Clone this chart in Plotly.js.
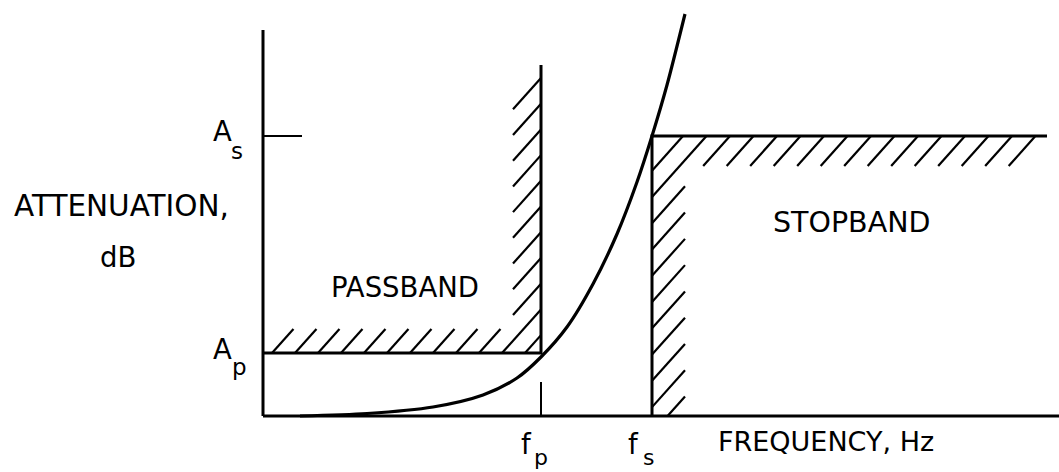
<!DOCTYPE html>
<html><head><meta charset="utf-8">
<script src="https://cdn.plot.ly/plotly-3.0.1.min.js"></script>
<style>html,body{margin:0;padding:0;background:#fff;}#chart{width:1059px;height:472px;}</style>
</head><body><div id="chart"></div>
<script>
// Key specification values (arbitrary units)
const fp = 2.78;          // passband edge frequency
const fs = 3.89;          // stopband edge frequency
const Ap = 0.63;          // max passband attenuation
const As = 2.80;          // min stopband attenuation
const passTop = 3.51;     // top of passband limit line
const stopRight = 7.84;   // right end of stopband limit line
const xAxisEnd = 7.96;    // end of frequency axis
const yAxisTop = 3.86;    // top of attenuation axis

// Filter attenuation response curve
const curveX = [0.37, 1.04, 1.70, 2.20, 2.54, 2.78, 3.04, 3.30, 3.54, 3.74, 3.89, 4.04, 4.22];
const curveY = [0.00, 0.025, 0.09, 0.21, 0.38, 0.59, 0.89, 1.32, 1.82, 2.34, 2.80, 3.31, 4.02];

// Text labels
const yTitle = ["ATTENUATION,", "dB"];
const xTitle = "FREQUENCY, Hz";
const regionLabels = ["PASSBAND", "STOPBAND"];
const tickMain = ["A", "A", "f", "f"];   // A_s, A_p, f_p, f_s
const tickSub  = ["s", "p", "p", "s"];

// ---- hatching (decorative) ----
function hatch(m, cs, rects, minDx) {
  const xs = [], ys = [];
  for (const c of cs) {
    const iv = [];
    for (const r of rects) {
      const lo = Math.max(r[0], (r[2] - c) / m);
      const hi = Math.min(r[1], (r[3] - c) / m);
      if (hi > lo) iv.push([lo, hi]);
    }
    iv.sort((a, b) => a[0] - b[0]);
    const merged = [];
    for (const s of iv) {
      if (merged.length && s[0] <= merged[merged.length - 1][1] + 1e-9) {
        merged[merged.length - 1][1] = Math.max(merged[merged.length - 1][1], s[1]);
      } else merged.push([s[0], s[1]]);
    }
    for (const s of merged) {
      if (s[1] - s[0] < minDx) continue;
      xs.push(s[0], s[1], null);
      ys.push(m * s[0] + c, m * s[1] + c, null);
    }
  }
  return {xs, ys};
}
const slope = 1.118;
const passCs = [], stopCs = [];
for (let k = 0; k < 12; k++) passCs.push((Ap - slope * 0.09) - k * slope * 0.23);
for (let k = -1; k < 17; k++) stopCs.push((As - slope * 4.20) - k * slope * 0.235);
const hp = hatch(slope, passCs, [[0, fp, Ap, Ap + 0.24], [fp - 0.28, fp, Ap, 3.40]], 0.1);
const hs = hatch(slope, stopCs, [[fs, 7.72, As - 0.30, As], [fs, fs + 0.33, 0, As]], 0.1);

const black = '#000';
const ln = (x, y, w) => ({x, y, mode: 'lines', line: {color: black, width: w}, hoverinfo: 'skip'});
const traces = [
  ln(hp.xs, hp.ys, 2.2),
  ln(hs.xs, hs.ys, 2.2),
  ln([0, xAxisEnd], [0, 0], 3),                 // frequency axis
  ln([0, 0], [0, yAxisTop], 3),                 // attenuation axis
  ln([0, 0.39], [As, As], 2),                   // A_s tick
  ln([fp, fp], [0, 0.34], 2),                   // f_p tick
  ln([0, fp, fp], [Ap, Ap, passTop], 3),        // passband limit
  ln([stopRight, fs, fs], [As, As, 0], 3),      // stopband limit
  {x: curveX, y: curveY, mode: 'lines', line: {color: black, width: 3.2, shape: 'spline', smoothing: 0.8}, hoverinfo: 'skip'}
];

const font = 'DejaVu Sans, sans-serif';
const txt = (text, x, y, size, xa, ya) => ({x, y, xref: 'x', yref: 'y', text, showarrow: false,
  xanchor: xa || 'center', yanchor: ya || 'middle', font: {family: font, size, color: black}});
const ann = [
  txt(yTitle[0], -1.42, 2.10, 29.5),
  txt(yTitle[1], -1.45, 1.59, 27.5),
  txt(regionLabels[0], 1.42, 1.29, 27.5),
  txt(regionLabels[1], 5.88, 1.94, 28.5),
  txt(xTitle, 5.63, -0.25, 27),
  // A_s
  txt(tickMain[0], -0.41, 2.85, 27.5), txt(tickSub[0], -0.26, 2.65, 23),
  // A_p
  txt(tickMain[1], -0.41, 0.67, 27.5), txt(tickSub[1], -0.24, 0.49, 23),
  // f_p
  txt(tickMain[2], fp - 0.15, -0.28, 27.5), txt(tickSub[2], fp, -0.555, 22, 'center', 'bottom'),
  // f_s
  txt(tickMain[3], fs - 0.19, -0.28, 27.5), txt(tickSub[3], fs - 0.04, -0.555, 22, 'center', 'bottom')
];

const layout = {
  width: 1059, height: 472,
  margin: {l: 0, r: 0, t: 0, b: 0, pad: 0},
  paper_bgcolor: '#fff', plot_bgcolor: '#fff',
  showlegend: false,
  xaxis: {range: [-2.63, 7.96], visible: false, fixedrange: true},
  yaxis: {range: [-0.56, 4.16], visible: false, fixedrange: true},
  annotations: ann
};
Plotly.newPlot('chart', traces, layout, {staticPlot: true, displayModeBar: false});
</script>
</body></html>
